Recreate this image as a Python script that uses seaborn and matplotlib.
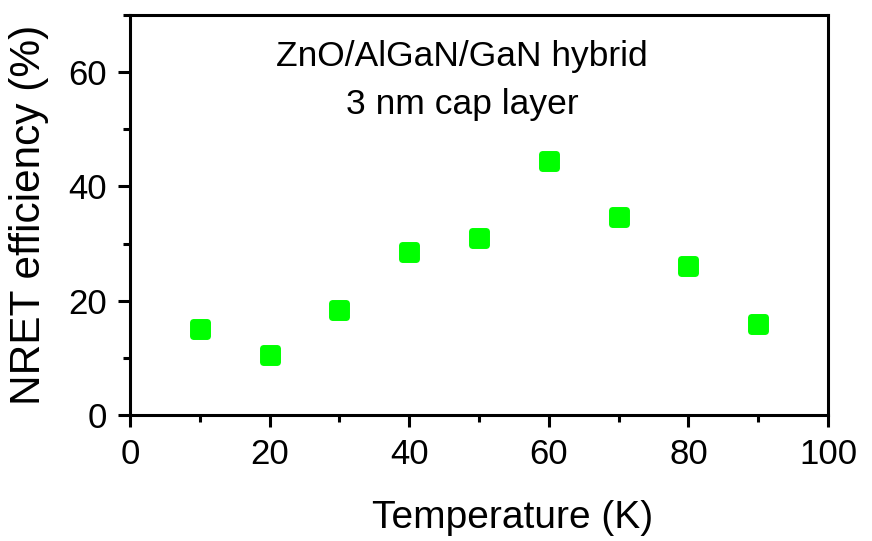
import matplotlib
matplotlib.use("Agg")
import matplotlib.pyplot as plt
import seaborn as sns
import pandas as pd
from matplotlib.ticker import MultipleLocator

temperature = [10, 20, 30, 40, 50, 60, 70, 80, 90]
nret_efficiency = [15.0, 10.5, 18.3, 28.5, 31.0, 44.5, 34.6, 26.0, 16.0]
annotation_lines = ["ZnO/AlGaN/GaN hybrid", "3 nm cap layer"]
x_label = "Temperature (K)"
y_label = "NRET efficiency (%)"

df = pd.DataFrame({"T": temperature, "eff": nret_efficiency})

sns.set_style("ticks")
plt.rcParams['font.family'] = ['Liberation Sans', 'DejaVu Sans']
plt.rcParams.update({"text.color": "black", "axes.labelcolor": "black",
                     "xtick.color": "black", "ytick.color": "black",
                     "axes.edgecolor": "black"})

fig = plt.figure(figsize=(8.72, 5.41), dpi=100)
ax = fig.add_axes([130/872, 1-415/541, (828-130)/872, (415-15)/541])

green = "#00ff00"
sns.scatterplot(data=df, x="T", y="eff", ax=ax, marker="s", s=105,
                color=green, edgecolor=green, linewidth=5.0, legend=False, zorder=3)
for coll in ax.collections:
    coll.set_joinstyle("round")

ax.set_xlim(0, 100)
ax.set_ylim(0, 70)
ax.xaxis.set_major_locator(MultipleLocator(20))
ax.xaxis.set_minor_locator(MultipleLocator(10))
ax.yaxis.set_major_locator(MultipleLocator(20))
ax.yaxis.set_minor_locator(MultipleLocator(10))

for s in ax.spines.values():
    s.set_visible(True)
    s.set_linewidth(2.2)
    s.set_color("black")

ax.tick_params(which="major", direction="out", length=8.6, width=2.2, labelsize=25, pad=8, color="black")
ax.tick_params(which="minor", direction="out", length=5, width=2.2, color="black")

ax.set_xlabel(x_label, fontsize=28, va="center")
ax.xaxis.set_label_coords(0.548, -0.258)
ax.set_ylabel(y_label, fontsize=30.5, va="center")
ax.yaxis.set_label_coords(-0.1447, 0.5)

ax.text(47.6, 62.8, annotation_lines[0], fontsize=25.5, ha="center", va="center")
ax.text(47.6, 54.4, annotation_lines[1], fontsize=25.5, ha="center", va="center")

fig.savefig("out.png", dpi=100)
